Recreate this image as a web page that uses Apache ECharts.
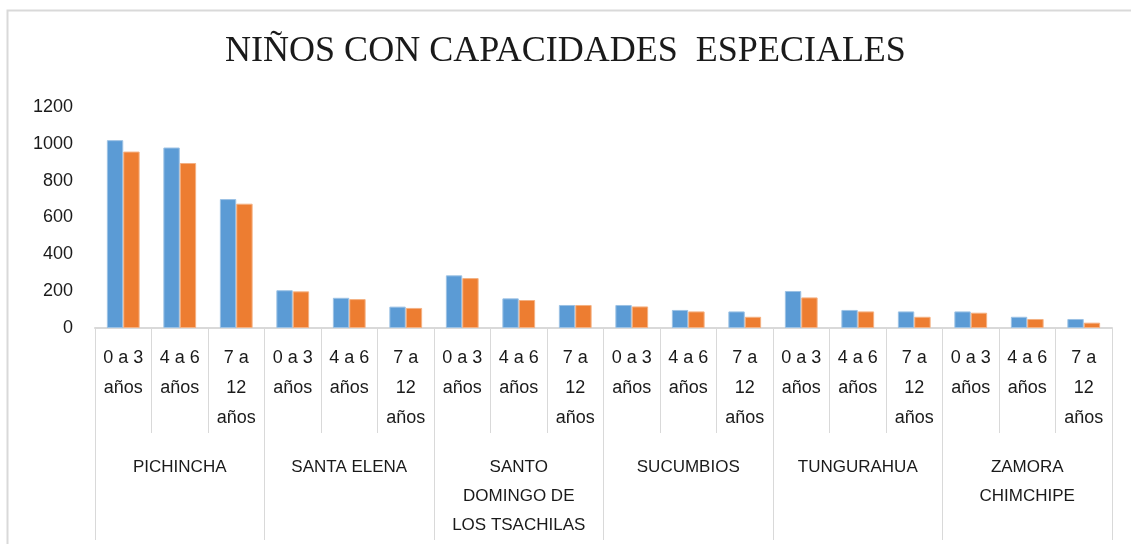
<!DOCTYPE html>
<html lang="es">
<head>
    <meta charset="UTF-8">
    <title>Niños con capacidades especiales</title>
    <style>
        html, body { margin: 0; padding: 0; background: #fff; }
        #container { width: 1131px; height: 544px; }
    </style>
</head>
<body>
    <div id="container"></div>
    <script src="https://cdn.jsdelivr.net/npm/echarts@6/dist/echarts.min.js"></script>
    <script>
        // datos
        const provincias = ['PICHINCHA', 'SANTA ELENA', 'SANTO\nDOMINGO DE\nLOS TSACHILAS', 'SUCUMBIOS', 'TUNGURAHUA', 'ZAMORA\nCHIMCHIPE'];
        const edades = ['0 a 3\naños', '4 a 6\naños', '7 a\n12\naños'];
        const serieAzul = [1020, 980, 700, 205, 164, 116, 286, 161, 125, 125, 98, 90, 201, 98, 90, 90, 61, 49];
        const serieNaranja = [958, 896, 675, 199, 157, 109, 271, 152, 125, 117, 90, 61, 166, 90, 61, 83, 49, 29];

        const categorias = [];
        provincias.forEach(p => edades.forEach(e => categorias.push(e)));

        const fuente = 'Liberation Sans';
        const gris = '#d9d9d9';

        const option = {
            animation: false,
            title: {
                text: 'NIÑOS CON CAPACIDADES  ESPECIALES',
                left: 'center',
                top: 29,
                textStyle: { fontFamily: 'Liberation Serif', fontWeight: 'normal', fontSize: 36, color: '#1a1a1a' }
            },
            graphic: [{
                type: 'rect',
                shape: { x: 7.5, y: 10.5, width: 1140, height: 560 },
                style: { fill: 'none', stroke: gris, lineWidth: 2 },
                silent: true
            }],
            grid: { left: 95, right: 19, top: 107, bottom: 216 },
            xAxis: [{
                type: 'category',
                data: categorias,
                axisLine: { lineStyle: { color: gris, width: 2 } },
                axisTick: { show: true, interval: 0, length: 105, lineStyle: { color: gris } },
                axisLabel: {
                    interval: 0, margin: 15, lineHeight: 30,
                    fontFamily: fuente, fontSize: 18, color: '#1a1a1a'
                }
            }, {
                type: 'category',
                position: 'bottom',
                offset: 105,
                data: provincias,
                axisLine: { show: false },
                axisTick: { show: true, interval: 0, length: 107, lineStyle: { color: gris } },
                axisLabel: {
                    interval: 0, margin: 20, lineHeight: 29,
                    fontFamily: fuente, fontSize: 17, color: '#1a1a1a'
                }
            }],
            yAxis: {
                type: 'value',
                min: 0, max: 1200, interval: 200,
                axisLine: { show: false },
                axisTick: { show: false },
                splitLine: { show: false },
                axisLabel: {
                    margin: 22, fontFamily: fuente, fontSize: 18, color: '#1a1a1a',
                    formatter: v => String(v)
                }
            },
            series: [{
                type: 'bar',
                data: serieAzul,
                barGap: '0%',
                barCategoryGap: '42%',
                itemStyle: { color: '#5b9bd5', borderColor: '#9cc2e5', borderWidth: 1 }
            }, {
                type: 'bar',
                data: serieNaranja,
                itemStyle: { color: '#ed7d31', borderColor: '#f4b183', borderWidth: 1 }
            }]
        };

        const chart = echarts.init(document.getElementById('container'));
        chart.setOption(option);
    </script>
</body>
</html>
